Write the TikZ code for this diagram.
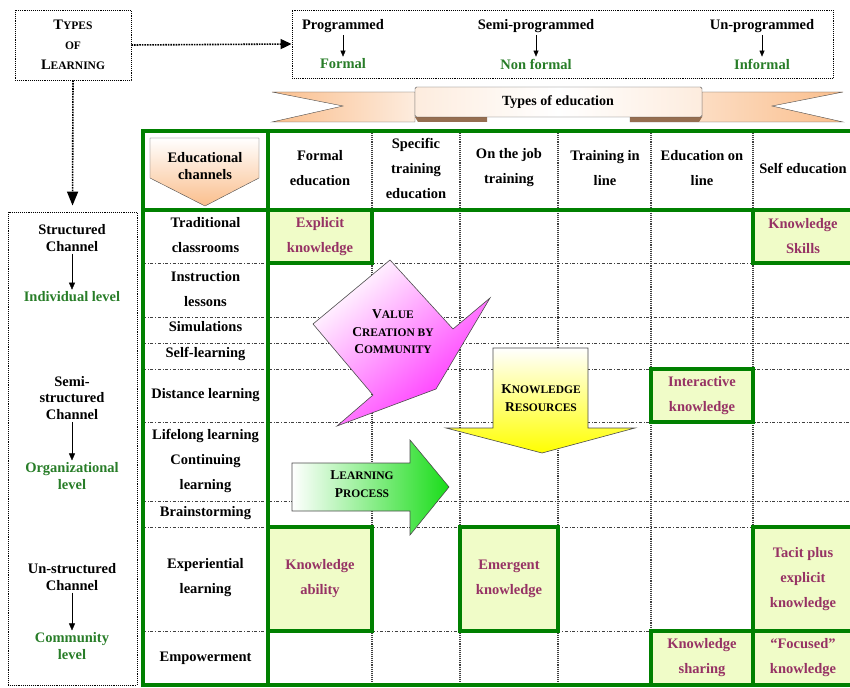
\documentclass[tikz,border=0pt]{standalone}
\usepackage{fontspec}
\setmainfont{Liberation Serif}
\usetikzlibrary{arrows.meta,positioning}

\definecolor{tabgreen}{RGB}{0,128,0}
\definecolor{lvlgreen}{RGB}{40,125,40}
\definecolor{knowtext}{RGB}{150,50,100}
\definecolor{knowfill}{RGB}{240,252,200}
\definecolor{peach}{RGB}{250,190,140}
\definecolor{peachlight}{RGB}{253,236,222}
\definecolor{folddark}{RGB}{150,110,80}

% fake small capitals: big first letter, smaller rest
\newcommand{\smcap}[2]{#1{\fontsize{11.5}{12}\selectfont #2}}

\tikzset{
  lbl/.style={font=\fontsize{14.5}{16.5}\selectfont\bfseries, align=center, inner sep=2pt},
  cell/.style={font=\fontsize{14.5}{25}\selectfont\bfseries, align=center, inner sep=0pt},
  know/.style={cell, text=knowtext},
  knowbox/.style={know, draw=tabgreen, line width=3.5pt, fill=knowfill},
  grn/.style={lbl, text=lvlgreen},
  dotbox/.style={draw, densely dotted, line width=0.9pt},
  rowline/.style={dash dot, line width=0.9pt, black!75},
  colline/.style={densely dotted, line width=1.1pt, black!75},
  greenline/.style={tabgreen, line width=4pt},
  bigarrow/.style={draw=black!70, line width=0.6pt},
  arrowtext/.style={font=\fontsize{13.5}{17.5}\selectfont\bfseries, align=center, inner sep=0pt},
}

\begin{document}
\begin{tikzpicture}[x=1pt, y=-1pt]
\useasboundingbox (0,0) rectangle (850,687);

% types of learning and types of education
\node[lbl, dotbox, minimum width=116, minimum height=70, font=\fontsize{14.5}{20}\selectfont\bfseries] (types) at (73,45) {\smcap{T}{YPES}\\\smcap{}{OF}\\\smcap{L}{EARNING}};
\node[dotbox, minimum width=541, minimum height=68] (kinds) at (562.5,44) {};
\draw[densely dotted, line width=1.6pt, -{Triangle[length=11pt,width=10pt]}] (types.east) -- (kinds.west);

\node[lbl] (prog) at (343,26) {Programmed};
\node[grn] (formal) at (343,64) {Formal};
\node[lbl] (semi) at (536,26) {Semi-programmed};
\node[grn] (nonformal) at (536,64) {Non formal};
\node[lbl] (unprog) at (762,26) {Un-programmed};
\node[grn] (informal) at (762,64) {Informal};
\draw[-{Triangle[length=6pt,width=5pt]}] (prog) -- (formal);
\draw[-{Triangle[length=6pt,width=5pt]}] (semi) -- (nonformal);
\draw[-{Triangle[length=6pt,width=5pt]}] (unprog) -- (informal);

% ribbon
\draw[black!70, left color=peach, right color=peachlight] (272,92) -- (415,92) -- (415,122) -- (272,122) -- (343,106) -- cycle;
\draw[black!70, right color=peach, left color=peachlight] (702,92) -- (843,92) -- (772,106) -- (843,122) -- (630,122) -- (630,117) -- (702,117) -- cycle;
\fill[folddark] (415,117) -- (487,117) -- (487,122) -- (418,122) -- cycle;
\fill[folddark] (630,117) -- (702,117) -- (699,122) -- (630,122) -- cycle;
\draw[black!70, left color=peachlight, right color=peachlight, middle color=white, rounded corners=1.5pt] (415,87) rectangle (702,117);
\node[lbl, font=\fontsize{14}{16}\selectfont\bfseries] (edu) at (558,102) {Types of education};

% channels
\node[dotbox, minimum width=129, minimum height=473] (chan) at (72.5,448.5) {};
\draw[densely dotted, line width=1.6pt, -{Triangle[length=14pt,width=11pt]}, shorten >=6pt] (types.south) -- (chan.north);

\node[lbl] (struct) at (72,238) {Structured\\Channel};
\node[grn] (indiv) at (72,297) {Individual level};
\node[lbl] (semistr) at (72,398) {Semi-\\structured\\Channel};
\node[grn] (organ) at (72,476) {Organizational\\level};
\node[lbl] (unstr) at (72,577) {Un-structured\\Channel};
\node[grn] (commun) at (72,646) {Community\\level};
\draw[-{Triangle[length=7pt,width=6pt]}] (struct) -- (indiv);
\draw[-{Triangle[length=7pt,width=6pt]}] (semistr) -- (organ);
\draw[-{Triangle[length=7pt,width=6pt]}] (unstr) -- (commun);

% grid
\foreach \x in {372,460,558,651,753}
  \draw[colline] (\x,131) -- (\x,685);
\foreach \y in {263,317,343,369,422,501,527,631}
  \draw[rowline] (143,\y) -- (850,\y);

% header
\draw[black!70, top color=white, bottom color=peach] (150,138) -- (259,138) -- (259,178) -- (205,206) -- (150,178) -- cycle;
\node[lbl] (educh) at (205,166) {Educational\\channels};
\node[cell] (hformal) at (320,168) {Formal\\education};
\node[cell] (hspec) at (416,168) {Specific\\training\\education};
\node[cell] (hjob) at (509,168) {On the job\\training};
\node[cell] (hline) at (605,168) {Training in\\line};
\node[cell] (honline) at (702,168) {Education on\\line};
\node[cell] (hself) at (803,168) {Self education};

% rows
\node[cell] (trad) at (205.5,235) {Traditional\\classrooms};
\node[cell] (instr) at (205.5,289) {Instruction\\lessons};
\node[cell] (simul) at (205.5,327) {Simulations};
\node[cell] (selfl) at (205.5,354) {Self-learning};
\node[cell] (dist) at (205.5,395) {Distance learning};
\node[cell] (life) at (205.5,461) {Lifelong learning\\Continuing\\learning};
\node[cell] (brain) at (205.5,513) {Brainstorming};
\node[cell] (exper) at (205.5,578) {Experiential\\learning};
\node[cell] (empow) at (205.5,658) {Empowerment};

% knowledge cells
\node[knowbox, minimum width=104, minimum height=53] (expl) at (320,236.5) {Explicit\\knowledge};
\node[knowbox, minimum width=100, minimum height=53] (skills) at (803,236.5) {Knowledge\\Skills};
\node[knowbox, minimum width=102, minimum height=53] (inter) at (702,395.5) {Interactive\\knowledge};
\node[knowbox, minimum width=104, minimum height=104] (abil) at (320,579) {Knowledge\\ability};
\node[knowbox, minimum width=98, minimum height=104] (emerg) at (509,579) {Emergent\\knowledge};
\node[knowbox, minimum width=100, minimum height=104] (tacit) at (803,579) {Tacit plus\\explicit\\knowledge};
\node[knowbox, minimum width=102, minimum height=54] (share) at (702,658) {Knowledge\\sharing};
\node[knowbox, minimum width=100, minimum height=54] (focus) at (803,658) {``Focused''\\knowledge};

% table frame
\draw[greenline] (141,131) -- (852,131);
\draw[greenline] (141,210) -- (852,210);
\draw[greenline] (141,685) -- (852,685);
\draw[greenline] (143,131) -- (143,687);
\draw[greenline] (268,131) -- (268,687);

% big arrows
\draw[bigarrow, top color=white, bottom color=magenta!85!white, shading angle=40] (390,260) -- (313,324) -- (373,395) -- (337,426) -- (436,389) -- (490,298) -- (453,329) -- cycle;
\node[arrowtext] (value) at (393,332) {\smcap{V}{ALUE}\\\smcap{C}{REATION BY}\\\smcap{C}{OMMUNITY}};

\draw[bigarrow, top color=white, bottom color=yellow] (493,348) -- (588,348) -- (588,428) -- (635,428) -- (542,453) -- (446,428) -- (493,428) -- cycle;
\node[arrowtext] (res) at (541,398) {\smcap{K}{NOWLEDGE}\\\smcap{R}{ESOURCES}};

\draw[bigarrow, left color=white, right color=green!85!black!90] (292,463) -- (410,463) -- (410,440) -- (449,487) -- (410,535) -- (410,511) -- (292,511) -- cycle;
\node[arrowtext] (proc) at (362,484) {\smcap{L}{EARNING}\\\smcap{P}{ROCESS}};
\end{tikzpicture}
\end{document}
